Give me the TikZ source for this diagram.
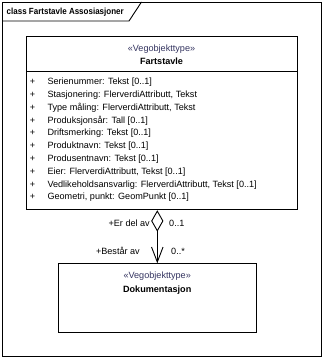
\documentclass[tikz,border=0pt]{standalone}
\usepackage{fontspec}
\setmainfont{Liberation Sans}
\usetikzlibrary{shapes.geometric,arrows.meta}
\definecolor{stereo}{RGB}{52,52,96}
\tikzset{
  umlline/.style={line width=0.9pt, draw=black},
  classbox/.style={umlline, rectangle, inner sep=0pt, anchor=north west},
  txt/.style={inner sep=0pt, font=\fontsize{9.1}{11}\selectfont},
  attr/.style={txt, anchor=mid west},
  plus/.style={txt, anchor=mid},
  stereotype/.style={txt, anchor=mid, text=stereo},
  classname/.style={txt, anchor=mid, font=\fontsize{9.1}{11}\selectfont\bfseries},
  rolelabel/.style={txt},
  aggdiamond/.style={umlline, diamond, fill=white, inner sep=0pt,
    minimum width=11.5pt, minimum height=20pt, anchor=north},
}
\begin{document}
\begin{tikzpicture}[x=1pt,y=-1pt]
  \useasboundingbox (0,0) rectangle (323,358);
  \fill[white] (0,0) rectangle (323,358);

  % diagram frame with its title tab
  \draw[umlline] (2,2) rectangle (321,356);
  \draw[umlline] (2,21) -- (129,21) -- (141.5,2);
  \node[txt, anchor=mid west, font=\fontsize{8.9}{11}\selectfont\bfseries, xscale=0.9] (title) at (6.5,11.5) {class Fartstavle Assosiasjoner};

  % class Fartstavle
  \node[classbox, minimum width=271pt, minimum height=173pt] (fart) at (26,36) {};
  \draw[umlline] (26,71) -- (297,71);
  \node[stereotype] (fartst) at (161.5,48.7) {«Vegobjekttype»};
  \node[classname] (fartname) at (161.5,61.5) {Fartstavle};

  \foreach \i/\t in {0/{Serienummer: Tekst [0..1]},
                     1/{Stasjonering: FlerverdiAttributt, Tekst},
                     2/{Type måling: FlerverdiAttributt, Tekst},
                     3/{Produksjonsår: Tall [0..1]},
                     4/{Driftsmerking: Tekst [0..1]},
                     5/{Produktnavn: Tekst [0..1]},
                     6/{Produsentnavn: Tekst [0..1]},
                     7/{Eier: FlerverdiAttributt, Tekst [0..1]},
                     8/{Vedlikeholdsansvarlig: FlerverdiAttributt, Tekst [0..1]},
                     9/{Geometri, punkt: GeomPunkt [0..1]}} {
    \node[plus] (plus\i) at (32.5,{82+12.8*\i}) {+};
    \node[attr] (attr\i) at (47.3,{82+12.8*\i}) {\t};
  }

  % class Dokumentasjon
  \node[classbox, minimum width=198pt, minimum height=69pt] (dok) at (58,263.3) {};
  \node[stereotype] (dokst) at (157.2,276.3) {«Vegobjekttype»};
  \node[classname] (dokname) at (157.2,289.5) {Dokumentasjon};

  % aggregation Fartstavle <>-> Dokumentasjon
  \node[aggdiamond] (agg) at (157.3,210.5) {};
  \draw[umlline, -{Straight Barb[length=15pt,width=11.5pt]}] (agg.south) -- (agg.south |- dok.north);

  \node[rolelabel, anchor=mid east] (roleA) at (150,223.5) {+Er del av};
  \node[rolelabel, anchor=mid west] (multA) at (169,223.5) {0..1};
  \node[rolelabel, anchor=mid east] (roleB) at (140,251.5) {+Består av};
  \node[rolelabel, anchor=mid west] (multB) at (171,251.5) {0..*};
\end{tikzpicture}
\end{document}
